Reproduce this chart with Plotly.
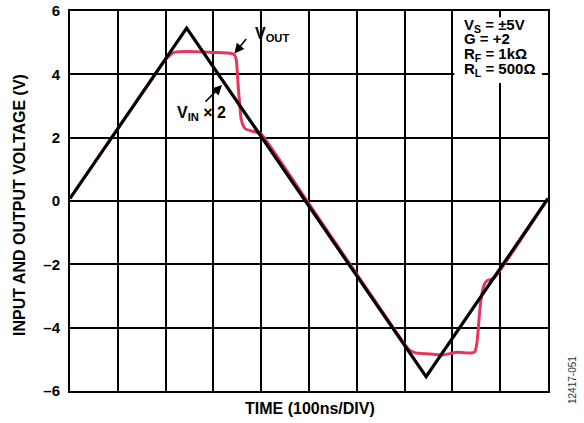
import plotly.graph_objects as go

# Time in divisions (100 ns/DIV), voltages in volts
vin_time = [0.0, 2.44, 7.45, 10.0]
vin_x2 = [0.08, 5.46, -5.55, 0.08]

vout_time = [0.0, 1.95, 2.02, 2.1, 2.2, 2.5, 3.0, 3.38, 3.44, 3.48, 3.52, 3.58, 3.63,
             3.68, 3.78, 3.9, 4.0, 4.96, 6.98, 7.04, 7.1, 7.18, 7.28, 7.6, 7.8, 8.1,
             8.4, 8.47, 8.5, 8.53, 8.57, 8.62, 8.68, 8.74, 8.86, 10.0]
vout = [0.08, 4.37, 4.5, 4.62, 4.7, 4.72, 4.69, 4.66, 4.62, 4.45, 3.6, 2.6, 2.36,
        2.27, 2.22, 2.17, 2.12, 0.0, -4.48, -4.6, -4.7, -4.77, -4.81, -4.84, -4.86, -4.78,
        -4.8, -4.76, -4.6, -4.25, -3.5, -2.9, -2.6, -2.5, -2.45, 0.08]

y_ticks = [-6, -4, -2, 0, 2, 4, 6]
y_tick_text = ["–6", "–4", "–2", "0", "2", "4", "6"]

conditions = ["V<sub>S</sub> = ±5V", "G = +2", "R<sub>F</sub> = 1kΩ", "R<sub>L</sub> = 500Ω"]

FONT = "Arial, Liberation Sans, Helvetica, sans-serif"
RED = "#e6365c"

fig = go.Figure()
fig.add_trace(go.Scatter(x=vout_time, y=vout, mode="lines",
                         line=dict(color=RED, width=3, shape="spline", smoothing=0.4),
                         hoverinfo="skip"))
fig.add_trace(go.Scatter(x=vin_time, y=vin_x2, mode="lines",
                         line=dict(color="black", width=3.2),
                         hoverinfo="skip"))

# white panel behind the test-condition block (covers the grid, not the frame)
fig.add_shape(type="rect", xref="x", yref="y", x0=8.04, x1=9.87, y0=3.73, y1=5.8,
              fillcolor="white", line=dict(width=0), layer="between")

cond_y = [5.55, 5.14, 4.64, 4.14]
for txt, yy in zip(conditions, cond_y):
    fig.add_annotation(x=8.2, y=yy, xref="x", yref="y", text=f"<b>{txt}</b>",
                       showarrow=False, xanchor="left", yanchor="middle",
                       font=dict(family=FONT, size=15, color="black"))

# trace callouts
fig.add_annotation(x=3.82, y=5.25, xref="x", yref="y", text="<b>V<sub>OUT</sub></b>",
                   showarrow=False, xanchor="left", yanchor="middle",
                   font=dict(family=FONT, size=16, color="black"))
fig.add_annotation(x=3.44, y=4.66, xref="x", yref="y", text="", showarrow=True,
                   ax=13, ay=-16, arrowhead=2, arrowsize=1.3, arrowwidth=1.5,
                   arrowcolor="black")
fig.add_annotation(x=2.76, y=2.76, xref="x", yref="y", text="<b>V<sub>IN</sub> × 2</b>",
                   showarrow=False, xanchor="center", yanchor="middle",
                   font=dict(family=FONT, size=16, color="black"))
fig.add_annotation(x=3.18, y=3.66, xref="x", yref="y", text="", showarrow=True,
                   ax=-18, ay=18, arrowhead=2, arrowsize=1.3, arrowwidth=1.5,
                   arrowcolor="black")

# axis titles and figure id, placed by pixel centre
fig.add_annotation(x=19, y=205, xref="paper", yref="paper", text="<b>INPUT AND OUTPUT VOLTAGE (V)</b>",
                   showarrow=False, textangle=-90, xanchor="center", yanchor="middle",
                   font=dict(family=FONT, size=16, color="black"))
fig.add_annotation(x=310, y=408, xref="paper", yref="paper", text="<b>TIME (100ns/DIV)</b>",
                   showarrow=False, xanchor="center", yanchor="middle",
                   font=dict(family=FONT, size=16, color="black"))
fig.add_annotation(x=572, y=380, xref="paper", yref="paper", text="12417-051",
                   showarrow=False, textangle=-90, xanchor="center", yanchor="middle",
                   font=dict(family=FONT, size=10, color="#333"))

# convert the pixel-positioned paper annotations above into paper fractions
L, R, T, B = 70, 36, 11, 32
W, H = 584, 423
pw, ph = W - L - R, H - T - B
for ann in fig.layout.annotations:
    if ann.xref == "paper":
        ann.x = (ann.x - L) / pw
        ann.y = 1 - (ann.y - T) / ph

fig.update_xaxes(range=[0, 10], dtick=1, tick0=0, showgrid=True, gridcolor="black", gridwidth=1.5,
                 showticklabels=False, zeroline=False, showline=True, linecolor="black",
                 linewidth=2, mirror=True, ticks="", automargin=False)
fig.update_yaxes(range=[-6, 6], tickvals=y_ticks, ticktext=y_tick_text, showgrid=True,
                 gridcolor="black", gridwidth=1.5, zeroline=False, showline=True,
                 linecolor="black", linewidth=2, mirror=True, ticks="", ticklabelstandoff=5,
                 automargin=False,
                 tickfont=dict(family=FONT, size=15, color="black", weight="bold"))

fig.update_layout(width=W, height=H, margin=dict(l=L, r=R, t=T, b=B, autoexpand=False),
                  paper_bgcolor="white", plot_bgcolor="white", showlegend=False,
                  font=dict(family=FONT, color="black"))

fig.write_html("out.html")
